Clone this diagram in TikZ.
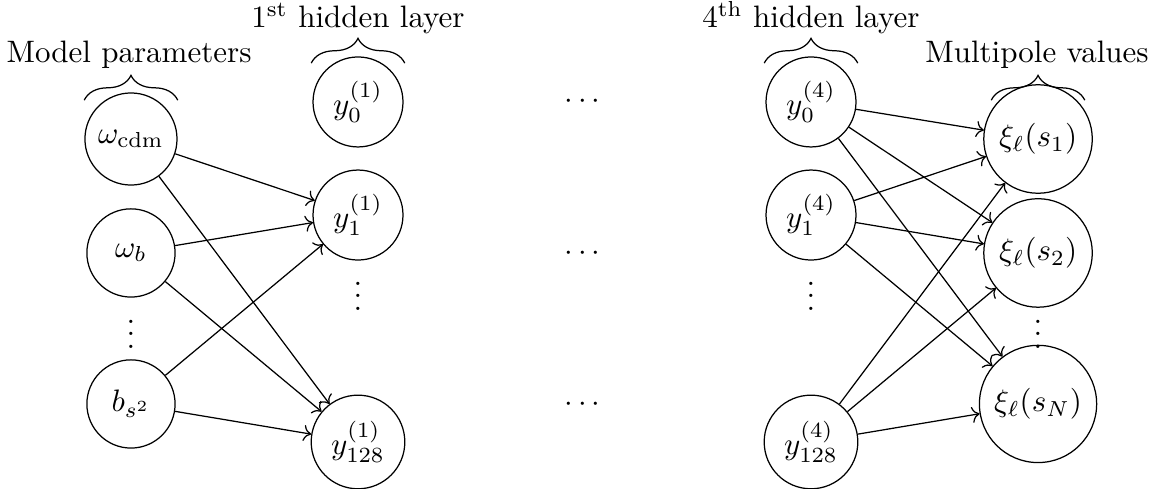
\documentclass[tikz,border=0pt]{standalone}
\usepackage{amsmath,amssymb}
\usepackage{tikz}
\usetikzlibrary{arrows.meta,calc,decorations.pathreplacing}
\tikzset{
  neuron/.style={draw=black,circle,line width=0.4pt,minimum size=1cm,inner sep=3pt,font=\normalsize},
  flow/.style={->,line width=0.4pt},
  curly/.style={decorate,decoration={brace,amplitude=8pt},line width=0.4pt},
  lab/.style={anchor=base,font=\normalsize},
  gap/.style={anchor=base,inner sep=0pt},
}

\begin{document}
\begin{tikzpicture}[x=1cm,y=1cm]
  \path[use as bounding box] (0,0) rectangle (13.084,-5.533);

  % input layer
  \node[neuron] (in0) at (1.485,-1.576) {$\omega_{\rm cdm}$};
  \node[neuron] (in1) at (1.485,-2.868) {$\omega_b$};
  \node[neuron] (in2) at (1.485,-4.580) {$b_{s^2}$};
  \node[gap] (inv) at (1.485,-3.946) {$\vdots$};

  % first hidden layer
  \node[neuron] (ha0) at (4.059,-1.156) {$y_0^{(1)}$};
  \node[neuron] (ha1) at (4.059,-2.438) {$y_1^{(1)}$};
  \node[neuron] (ha2) at (4.059,-5.011) {$y_{128}^{(1)}$};
  \node[gap] (hav) at (4.059,-3.515) {$\vdots$};

  % layers in between
  \node[gap] (mid0) at (6.633,-1.234) {$\cdots$};
  \node[gap] (mid1) at (6.633,-2.959) {$\cdots$};
  \node[gap] (mid2) at (6.633,-4.671) {$\cdots$};

  % fourth hidden layer
  \node[neuron] (hd0) at (9.195,-1.156) {$y_0^{(4)}$};
  \node[neuron] (hd1) at (9.195,-2.438) {$y_1^{(4)}$};
  \node[neuron] (hd2) at (9.195,-5.011) {$y_{128}^{(4)}$};
  \node[gap] (hdv) at (9.195,-3.515) {$\vdots$};

  % output layer
  \node[neuron] (out0) at (11.769,-1.576) {$\xi_\ell(s_1)$};
  \node[neuron] (out1) at (11.769,-2.868) {$\xi_\ell(s_2)$};
  \node[neuron] (out2) at (11.769,-4.580) {$\xi_\ell(s_N)$};
  \node[gap] (outv) at (11.769,-3.946) {$\vdots$};

  % connections
  \foreach \src in {in0,in1,in2}
    \foreach \dst in {ha1,ha2}
      \draw[flow] (\src) -- (\dst);
  \foreach \src in {hd0,hd1,hd2}
    \foreach \dst in {out0,out1,out2}
      \draw[flow] (\src) -- (\dst);

  % braces and titles
  \foreach \nn in {in0,ha0,hd0,out0}
    \draw[curly] ([shift={(-0.53,0.44)}]\nn.center) -- ([shift={(0.53,0.44)}]\nn.center);
  \node[lab] (tin) at (1.463,-0.714) {Model parameters};
  \node[lab] (tha) at (4.059,-0.317) {$1^{\rm st}$ hidden layer};
  \node[lab] (thd) at (9.195,-0.317) {$4^{\rm th}$ hidden layer};
  \node[lab] (tout) at (11.757,-0.714) {Multipole values};
\end{tikzpicture}
\end{document}
